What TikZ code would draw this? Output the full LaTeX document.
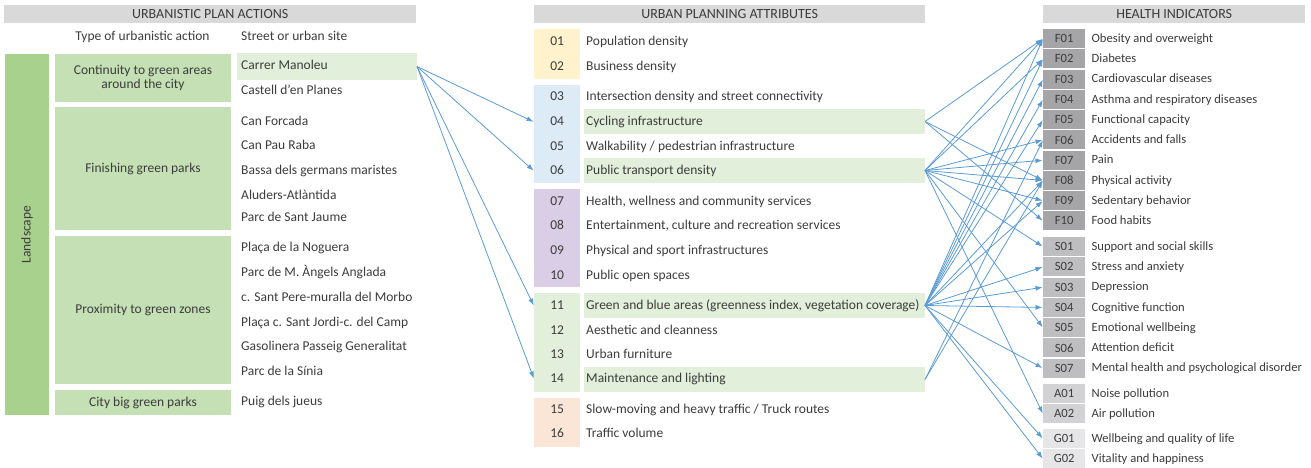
\documentclass[tikz,border=0pt]{standalone}
\usepackage{fontspec}
\setmainfont{Carlito}
\usetikzlibrary{arrows.meta}
\definecolor{txt}{RGB}{60,60,60}
\definecolor{hdrgray}{RGB}{217,217,217}
\definecolor{landg}{RGB}{169,209,142}
\definecolor{typeg}{RGB}{197,224,180}
\definecolor{lightg}{RGB}{226,239,218}
\definecolor{yel}{RGB}{255,242,204}
\definecolor{blu}{RGB}{221,235,247}
\definecolor{pur}{RGB}{217,206,230}
\definecolor{pea}{RGB}{251,229,214}
\definecolor{fg}{RGB}{165,165,168}
\definecolor{sg}{RGB}{190,190,193}
\definecolor{ag}{RGB}{210,210,212}
\definecolor{gg}{RGB}{230,230,232}
\definecolor{arr}{RGB}{91,155,213}
\tikzset{
  every node/.style={font=\fontsize{13.5}{15}\selectfont, text=txt},
  rfont/.style={font=\fontsize{12.6}{14}\selectfont},
  hdr/.style={fill=hdrgray, anchor=north west, minimum height=18pt, inner sep=0pt, font=\fontsize{14}{16}\selectfont},
  blk/.style={anchor=north west, inner sep=0pt, outer sep=0pt},
  lbl/.style={anchor=west, inner sep=0pt, text height=0.85em, text depth=0.1em},
  num/.style={anchor=west, inner sep=0pt, minimum width=46pt, text height=0.85em, text depth=0.1em},
  code/.style={anchor=north west, inner sep=0pt, minimum width=42pt, minimum height=19pt, rfont},
  link/.style={draw=arr, line width=0.8pt, -{Latex[length=7pt,width=5pt]}, shorten >=0.5pt}
}
\begin{document}
\begin{tikzpicture}[x=1pt,y=-1pt]
\useasboundingbox (0,0) rectangle (1311,468);
% ---------- headers
\node[hdr, minimum width=412pt] (hL) at (4,5) {URBANISTIC PLAN ACTIONS};
\node[hdr, minimum width=391pt] (hM) at (534,5) {URBAN PLANNING ATTRIBUTES};
\node[hdr, minimum width=262pt] (hR) at (1043,5) {HEALTH INDICATORS};
% ---------- left part
\node[lbl, anchor=center] (sub1) at (142.5,37) {Type of urbanistic action};
\node[lbl] (sub2) at (241,37) {Street or urban site};
\node[blk, fill=landg, minimum width=44pt, minimum height=361pt] (land) at (5,54) {};
\node[rotate=90, inner sep=0pt] (landt) at (land.center) {Landscape};
\node[blk, fill=typeg, minimum width=176pt, minimum height=48pt, align=center] (t1) at (55,54) {Continuity to green areas\\[-1pt]around the city};
\node[blk, fill=typeg, minimum width=176pt, minimum height=123pt] (t2) at (55,107) {Finishing green parks};
\node[blk, fill=typeg, minimum width=176pt, minimum height=148pt] (t3) at (55,236) {Proximity to green zones};
\node[blk, fill=typeg, minimum width=176pt, minimum height=25pt] (t4) at (55,390) {City big green parks};
\node[blk, fill=lightg, minimum width=180pt, minimum height=27pt] (man) at (237,53) {};
\node[lbl] (s1) at (241,66) {Carrer Manoleu};
\node[lbl] (s2) at (241,91) {Castell d’en Planes};
\node[lbl] (s3) at (241,122) {Can Forcada};
\node[lbl] (s4) at (241,146) {Can Pau Raba};
\node[lbl] (s5) at (241,171) {Bassa dels germans maristes};
\node[lbl] (s6) at (241,196) {Aluders-Atlàntida};
\node[lbl] (s7) at (241,218) {Parc de Sant Jaume};
\node[lbl] (s8) at (241,248) {Plaça de la Noguera};
\node[lbl] (s9) at (241,273) {Parc de M. Àngels Anglada};
\node[lbl] (s10) at (241,298) {c. Sant Pere-muralla del Morbo};
\node[lbl] (s11) at (241,323) {Plaça c. Sant Jordi-c. del Camp};
\node[lbl] (s12) at (241,347) {Gasolinera Passeig Generalitat};
\node[lbl] (s13) at (241,372) {Parc de la Sínia};
\node[lbl] (s14) at (241,402) {Puig dels jueus};
% ---------- middle part
\node[blk, fill=yel, minimum width=46pt, minimum height=50pt] (bY) at (534,29) {};
\node[blk, fill=blu, minimum width=46pt, minimum height=98pt] (bB) at (534,85) {};
\node[blk, fill=pur, minimum width=46pt, minimum height=98pt] (bP) at (534,189) {};
\node[blk, fill=lightg, minimum width=46pt, minimum height=99pt] (bG) at (534,293) {};
\node[blk, fill=pea, minimum width=46pt, minimum height=49pt] (bO) at (534,398) {};
\node[blk, fill=lightg, minimum width=341pt, minimum height=25pt] (h04) at (584,109) {};
\node[blk, fill=lightg, minimum width=341pt, minimum height=25pt] (h06) at (584,158) {};
\node[blk, fill=lightg, minimum width=341pt, minimum height=25pt] (h11) at (584,293) {};
\node[blk, fill=lightg, minimum width=341pt, minimum height=25pt] (h14) at (584,367) {};
\foreach \n/\y/\t in {01/42/{Population density}, 02/67/{Business density},
  03/97/{Intersection density and street connectivity}, 04/122/{Cycling infrastructure},
  05/147/{Walkability {/} pedestrian infrastructure}, 06/171/{Public transport density},
  07/202/{Health, wellness and community services}, 08/226/{Entertainment, culture and recreation services},
  09/251/{Physical and sport infrastructures}, 10/276/{Public open spaces},
  11/306/{Green and blue areas (greenness index, vegetation coverage)}, 12/331/{Aesthetic and cleanness},
  13/355/{Urban furniture}, 14/379/{Maintenance and lighting},
  15/410/{Slow-moving and heavy traffic {/} Truck routes}, 16/434/{Traffic volume}}{
  \node[num] (n\n) at (534,\y) {\n};
  \node[lbl] (a\n) at (586,\y) {\t};
}
% ---------- right part
\foreach \c/\t [count=\i from 0] in {F01/Obesity and overweight, F02/Diabetes, F03/Cardiovascular diseases,
  F04/Asthma and respiratory diseases, F05/Functional capacity, F06/Accidents and falls, F07/Pain,
  F08/Physical activity, F09/Sedentary behavior, F10/Food habits}{
  \node[code, fill=fg] (\c) at (1043,29+20.25*\i) {\c};
  \node[lbl, rfont] (l\c) at ([xshift=6pt]\c.east) {\t};
}
\foreach \c/\t [count=\i from 0] in {S01/Support and social skills, S02/Stress and anxiety, S03/Depression,
  S04/Cognitive function, S05/Emotional wellbeing, S06/Attention deficit,
  S07/Mental health and psychological disorder}{
  \node[code, fill=sg] (\c) at (1043,237+20.25*\i) {\c};
  \node[lbl, rfont] (l\c) at ([xshift=6pt]\c.east) {\t};
}
\foreach \c/\t [count=\i from 0] in {A01/Noise pollution, A02/Air pollution}{
  \node[code, fill=ag] (\c) at (1043,384+20.25*\i) {\c};
  \node[lbl, rfont] (l\c) at ([xshift=6pt]\c.east) {\t};
}
\foreach \c/\t [count=\i from 0] in {G01/Wellbeing and quality of life, G02/Vitality and happiness}{
  \node[code, fill=gg] (\c) at (1043,429+20.25*\i) {\c};
  \node[lbl, rfont] (l\c) at ([xshift=6pt]\c.east) {\t};
}
% ---------- connectors
\foreach \t in {n04,n06,n11,n14}{ \draw[link] (man.east) -- (\t.west); }
\foreach \t in {F01,F08,F10}{ \draw[link] (h04.east) -- (\t.west); }
\foreach \t in {F01,F02,F06,F07,F08,F09,S01,S05,A02}{ \draw[link] (h06.east) -- (\t.west); }
\foreach \t in {F01,F02,F03,F04,F05,F08,F09,S02,S03,S04,S07,G01,G02}{ \draw[link] (h11.east) -- (\t.west); }
\foreach \t in {F06,F08}{ \draw[link] (h14.east) -- (\t.west); }
\end{tikzpicture}
\end{document}
